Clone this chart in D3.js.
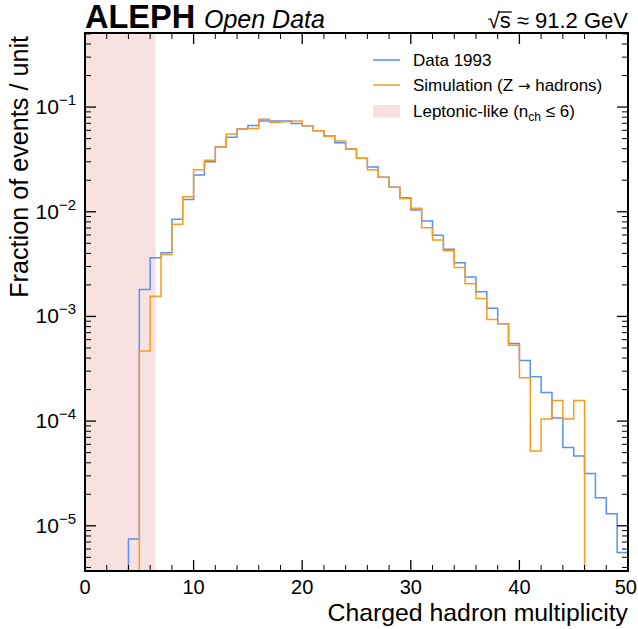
<!DOCTYPE html>
<html>
<head>
<meta charset="utf-8">
<script src="https://cdn.jsdelivr.net/npm/d3@7"></script>
<style>
  body { margin: 0; background: #fff; }
  text { font-family: "Liberation Sans", Arial, Helvetica, sans-serif; fill: #000; }
</style>
</head>
<body>
<div id="vis"></div>
<script>
var margin = { top: 33, right: 10, bottom: 58, left: 85 },
    width = 638 - margin.left - margin.right,
    height = 629 - margin.top - margin.bottom;

// bin lower edges 0..49, width 1
const binEdges = d3.range(0, 51);

// Data 1993, fraction of events per unit (0 = empty bin)
const dataValues = [
  0, 0, 0, 0, 7.5e-6, 1.81e-3, 3.63e-3, 4.06e-3, 8.46e-3, 1.31e-2,
  2.24e-2, 3.0e-2, 4.18e-2, 5.14e-2, 6.17e-2, 6.68e-2, 7.35e-2, 7.35e-2, 7.38e-2, 6.98e-2,
  6.62e-2, 5.94e-2, 5.3e-2, 4.56e-2, 3.97e-2, 3.24e-2, 2.67e-2, 2.14e-2, 1.71e-2, 1.36e-2,
  1.04e-2, 8.15e-3, 5.95e-3, 4.38e-3, 3.26e-3, 2.38e-3, 1.72e-3, 1.2e-3, 8.5e-4, 5.5e-4,
  3.8e-4, 2.65e-4, 1.88e-4, 1.07e-4, 5.61e-5, 4.63e-5, 3.16e-5, 1.85e-5, 1.3e-5, 5.57e-6
];

// Simulation (Z -> hadrons)
const simValues = [
  0, 0, 0, 0, 0, 4.67e-4, 1.56e-3, 3.91e-3, 7.58e-3, 1.39e-2,
  2.52e-2, 3.1e-2, 4.15e-2, 5.52e-2, 6.17e-2, 6.24e-2, 7.63e-2, 7.15e-2, 7.25e-2, 7.38e-2,
  6.62e-2, 5.94e-2, 5.26e-2, 4.73e-2, 3.97e-2, 3.24e-2, 2.52e-2, 2.14e-2, 1.71e-2, 1.34e-2,
  1.08e-2, 7.03e-3, 5.37e-3, 4.24e-3, 2.94e-3, 2.05e-3, 1.48e-3, 9.35e-4, 8.5e-4, 5.3e-4,
  2.6e-4, 5.17e-5, 1.05e-4, 1.57e-4, 1.05e-4, 1.57e-4, 0, 0, 0, 0
];

const leptonicCut = 6.5;
const xMajorTicks = [0, 10, 20, 30, 40, 50];
const yMajorTicks = [1e-5, 1e-4, 1e-3, 1e-2, 1e-1];
const yTickExp = ["−5", "−4", "−3", "−2", "−1"];

const blue = "#5790fc", orange = "#f89c20", shade = "#f8e2e1";

const svgRoot = d3.select('#vis')
    .append("svg")
    .attr("width", width + margin.left + margin.right)
    .attr("height", height + margin.top + margin.bottom);

const svg = svgRoot.append("g")
    .attr("transform", `translate(${margin.left}, ${margin.top})`);

const x = d3.scaleLinear().domain([0, 50]).range([0, width]);
const y = d3.scaleLog().domain([3.7e-6, 0.51]).range([height, 0]);

svg.append("clipPath").attr("id", "clip")
    .append("rect").attr("width", width).attr("height", height);

const plot = svg.append("g").attr("clip-path", "url(#clip)");

// leptonic-like region
plot.append("rect")
    .attr("x", x(0))
    .attr("y", 0)
    .attr("width", x(leptonicCut) - x(0))
    .attr("height", height)
    .style("fill", shade);

function stepPoints(values) {
    const pts = values.map((v, i) => [binEdges[i], v]);
    pts.push([binEdges[values.length], values[values.length - 1]]);
    return pts;
}

const stepLine = d3.line()
    .x(d => x(d[0]))
    .y(d => d[1] > 0 ? y(d[1]) : height + 30)
    .curve(d3.curveStepAfter);

plot.append("path")
    .datum(stepPoints(dataValues))
    .attr("d", stepLine)
    .style("fill", "none")
    .style("stroke", blue)
    .style("stroke-width", 1.5);

plot.append("path")
    .datum(stepPoints(simValues))
    .attr("d", stepLine)
    .style("fill", "none")
    .style("stroke", orange)
    .style("stroke-width", 1.5);

// ticks, inward on all four sides
const majorLen = 11, minorLen = 6;
const xMinor = d3.range(0, 51, 2).filter(v => v % 10 !== 0);
const yMinor = [];
for (let e = -6; e <= -1; e++) {
    for (let m = 2; m <= 9; m++) {
        const v = m * Math.pow(10, e);
        if (v >= y.domain()[0] && v <= y.domain()[1]) yMinor.push(v);
    }
}

const ticks = svg.append("g").style("stroke", "#000");
xMajorTicks.forEach(v => {
    ticks.append("line").attr("x1", x(v)).attr("x2", x(v)).attr("y1", height).attr("y2", height - majorLen).style("stroke-width", 1.3);
    ticks.append("line").attr("x1", x(v)).attr("x2", x(v)).attr("y1", 0).attr("y2", majorLen).style("stroke-width", 1.3);
});
xMinor.forEach(v => {
    ticks.append("line").attr("x1", x(v)).attr("x2", x(v)).attr("y1", height).attr("y2", height - minorLen).style("stroke-width", 1);
    ticks.append("line").attr("x1", x(v)).attr("x2", x(v)).attr("y1", 0).attr("y2", minorLen).style("stroke-width", 1);
});
yMajorTicks.forEach(v => {
    ticks.append("line").attr("x1", 0).attr("x2", majorLen).attr("y1", y(v)).attr("y2", y(v)).style("stroke-width", 1.3);
    ticks.append("line").attr("x1", width).attr("x2", width - majorLen).attr("y1", y(v)).attr("y2", y(v)).style("stroke-width", 1.3);
});
yMinor.forEach(v => {
    ticks.append("line").attr("x1", 0).attr("x2", minorLen).attr("y1", y(v)).attr("y2", y(v)).style("stroke-width", 1);
    ticks.append("line").attr("x1", width).attr("x2", width - minorLen).attr("y1", y(v)).attr("y2", y(v)).style("stroke-width", 1);
});

// frame
svg.append("rect")
    .attr("width", width)
    .attr("height", height)
    .style("fill", "none")
    .style("stroke", "#000")
    .style("stroke-width", 2);

// tick labels
svg.selectAll("text.xtick")
    .data(xMajorTicks)
    .join("text")
    .attr("class", "xtick")
    .attr("x", d => x(d))
    .attr("y", height + 23)
    .attr("text-anchor", "middle")
    .style("font-size", "20px")
    .text(d => d)
    .each(function () {
        // keep the last label inside the page
        const w = this.getComputedTextLength();
        const cx = +this.getAttribute("x");
        if (margin.left + cx + w / 2 > 637) this.setAttribute("x", 637 - margin.left - w / 2);
    });

yMajorTicks.forEach((v, i) => {
    const t = svg.append("text")
        .attr("x", -9)
        .attr("y", y(v) + 7)
        .attr("text-anchor", "end")
        .style("font-size", "21px");
    t.append("tspan").text("10");
    t.append("tspan").attr("dy", -9).style("font-size", "15px").text(yTickExp[i]);
});

// axis labels
svg.append("text")
    .attr("x", width)
    .attr("y", height + 50)
    .attr("text-anchor", "end")
    .style("font-size", "24.8px")
    .text("Charged hadron multiplicity");

svg.append("text")
    .attr("transform", `translate(${-57}, 3) rotate(-90)`)
    .attr("text-anchor", "end")
    .style("font-size", "25.2px")
    .text("Fraction of events / unit");

// header
svgRoot.append("text")
    .attr("x", 85)
    .attr("y", 28)
    .style("font-size", "32.5px")
    .style("font-weight", "bold")
    .text("ALEPH");
svgRoot.append("text")
    .attr("x", 204)
    .attr("y", 28)
    .style("font-size", "25px")
    .style("font-style", "italic")
    .text("Open Data");

const energy = svgRoot.append("text")
    .attr("x", 628)
    .attr("y", 28)
    .attr("text-anchor", "end")
    .style("font-size", "22px");
energy.append("tspan").text("√");
const sPart = energy.append("tspan").text("s");
energy.append("tspan").text(" ≈ 91.2 GeV");
const sBox = sPart.node().getExtentOfChar(0);
svgRoot.append("line")
    .attr("x1", sBox.x - 1)
    .attr("x2", sBox.x + sBox.width + 1)
    .attr("y1", 12)
    .attr("y2", 12)
    .style("stroke", "#000")
    .style("stroke-width", 1.3);

// legend
const legend = svgRoot.append("g").attr("transform", "translate(373, 0)");
const legendRows = [
    { y: 60, type: "line", color: blue },
    { y: 85, type: "line", color: orange },
    { y: 111, type: "patch", color: shade }
];
legendRows.forEach(r => {
    if (r.type === "line") {
        legend.append("line")
            .attr("x1", 0).attr("x2", 27)
            .attr("y1", r.y).attr("y2", r.y)
            .style("stroke", r.color)
            .style("stroke-width", 1.5);
    } else {
        legend.append("rect")
            .attr("x", 0).attr("y", r.y - 6)
            .attr("width", 27).attr("height", 12.5)
            .style("fill", r.color);
    }
});
legend.append("text").attr("x", 40).attr("y", 66).style("font-size", "17px").text("Data 1993");
const sim = legend.append("text").attr("x", 40).attr("y", 91).style("font-size", "17px");
sim.append("tspan").text("Simulation (Z ");
sim.append("tspan").style("font-family", "'DejaVu Sans'").style("font-size", "15px").text("→");
sim.append("tspan").text(" hadrons)");
const lep = legend.append("text").attr("x", 40).attr("y", 117).style("font-size", "17px");
lep.append("tspan").text("Leptonic-like (n");
lep.append("tspan").attr("dy", 4).style("font-size", "12px").text("ch");
lep.append("tspan").attr("dy", -4).text(" ≤ 6)");
</script>
</body>
</html>
